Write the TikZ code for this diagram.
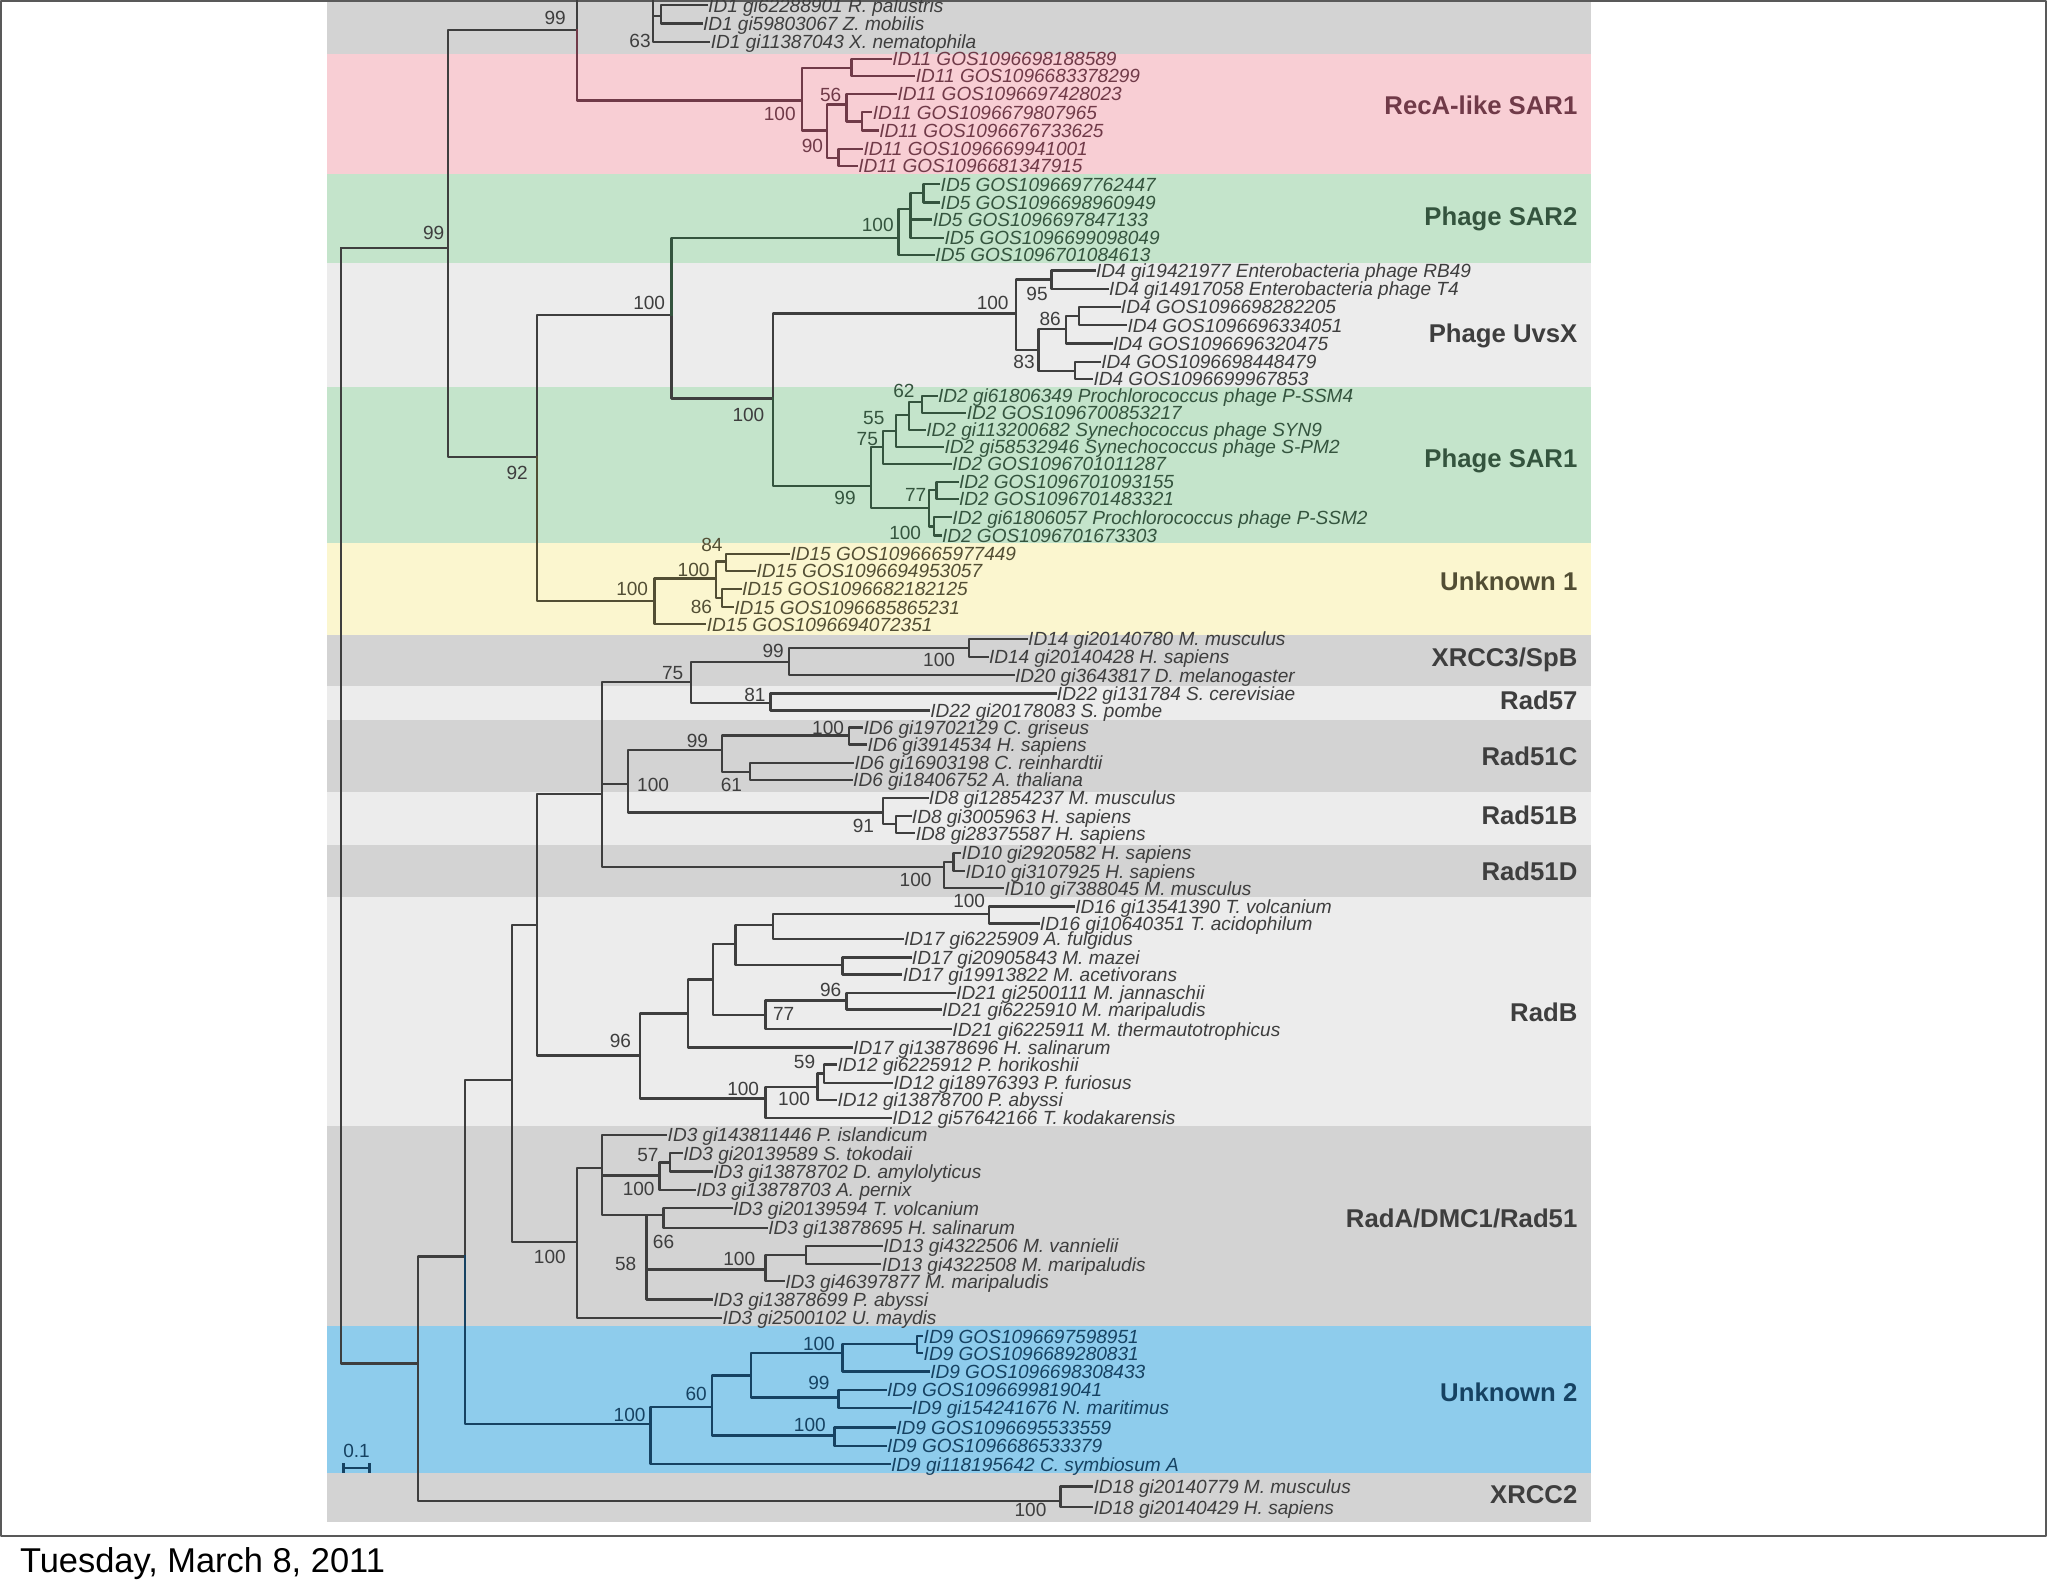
\documentclass[tikz,border=0pt]{standalone}
\usepackage{fontspec}
\setmainfont{Liberation Sans}
\definecolor{bandgray}{RGB}{211,211,211}
\definecolor{bandlight}{RGB}{236,236,236}
\definecolor{bandpink}{RGB}{248,206,212}
\definecolor{bandgreen}{RGB}{196,228,203}
\definecolor{bandyellow}{RGB}{251,246,207}
\definecolor{bandblue}{RGB}{142,204,236}
\definecolor{inkgray}{RGB}{62,62,62}
\definecolor{inkpink}{RGB}{112,58,72}
\definecolor{inkgreen}{RGB}{52,84,62}
\definecolor{inkyellow}{RGB}{82,78,52}
\definecolor{inkblue}{RGB}{22,66,98}
\begin{document}
\begin{tikzpicture}[x=0.2mm, y=-0.2mm, line join=round, line cap=rect,
  leaf/.style={anchor=west, inner sep=0.5pt, text height=6pt, text depth=0pt, font=\fontsize{8.3}{9}\selectfont\itshape},
  boot/.style={inner sep=0pt, font=\fontsize{8.3}{9}\selectfont},
  clade/.style={anchor=east, inner sep=0pt, text height=7.9pt, text depth=0pt, font=\fontsize{11.2}{12}\selectfont\bfseries}]
\useasboundingbox (0,0) rectangle (1568,1220);
\foreach \c/\a/\b in {bandgray/0/41, bandpink/41/133, bandgreen/133/201, bandlight/201/296, bandgreen/296/416,
  bandyellow/416/486, bandgray/486/525, bandlight/525/551, bandgray/551/606, bandlight/606/647, bandgray/647/687,
  bandlight/687/862, bandgray/862/1015, bandblue/1015/1128, bandgray/1128/1165}
  \fill[\c] (250,\a) rectangle (1218,\b);
\draw[black!65, line width=0.7pt] (0.8,0.8) rectangle (1566.5,1176);
\node[anchor=base west, inner sep=0pt, font=\fontsize{15}{17}\selectfont] (date) at (15,1204) {Tuesday, March 8, 2011};

\begin{scope}
\clip (250,0) rectangle (1218,1165);
\coordinate (nR) at (261,190);
\coordinate (n343) at (343,190);
\coordinate (nA) at (442,23);
\coordinate (n1) at (500,-8);
\coordinate (n1b) at (506,12);
\coordinate (n411) at (411,350);
\coordinate (nB) at (514,241);
\coordinate (nC) at (592,305);
\coordinate (P0) at (614,77);
\coordinate (P1) at (652,52);
\coordinate (P2) at (633,100);
\coordinate (P3) at (648,80);
\coordinate (P4) at (660,93);
\coordinate (P5) at (642,121);
\coordinate (Q0) at (688,182);
\coordinate (Q1) at (697,160);
\coordinate (Q2) at (707,148);
\coordinate (U0) at (778,240);
\coordinate (U1) at (805,214);
\coordinate (U3) at (795,268);
\coordinate (U4) at (816,252);
\coordinate (U6) at (826,242);
\coordinate (U5) at (823,284);
\coordinate (S0) at (667,372);
\coordinate (S5) at (676,342);
\coordinate (S4) at (686,330);
\coordinate (S3) at (696,318);
\coordinate (S2) at (706,308);
\coordinate (S6) at (711,389);
\coordinate (S7) at (717,375);
\coordinate (S8) at (715,403);
\coordinate (Y0) at (501,460);
\coordinate (Y1) at (548,443);
\coordinate (Y2) at (556,430);
\coordinate (Y3) at (553,458);
\coordinate (R2) at (320,1044);
\coordinate (R3) at (356,962);
\coordinate (K0) at (392,827);
\coordinate (L0) at (411,708);
\coordinate (M0) at (461,608);
\coordinate (X0) at (529,522);
\coordinate (X1) at (604,507);
\coordinate (X2) at (742,496);
\coordinate (X4) at (590,538);
\coordinate (C0) at (481,600);
\coordinate (C1) at (553,574);
\coordinate (C2) at (650,563);
\coordinate (C3) at (574,591);
\coordinate (B0) at (676,622);
\coordinate (B1) at (686,631);
\coordinate (D0) at (723,664);
\coordinate (D1) at (730,660);
\coordinate (RB0) at (490,808);
\coordinate (RB7) at (527,776);
\coordinate (RB3) at (546,750);
\coordinate (RB1) at (563,723);
\coordinate (RB2) at (592,708);
\coordinate (RBt) at (757,700);
\coordinate (RB4) at (645,739);
\coordinate (RB5) at (586,777);
\coordinate (RB6) at (648,766);
\coordinate (RB8) at (586,841);
\coordinate (RB9) at (626,832);
\coordinate (RB10) at (631,822);
\coordinate (RA0) at (442,951);
\coordinate (RA1) at (461,894);
\coordinate (RA2) at (505,900);
\coordinate (RA3) at (513,890);
\coordinate (RA4) at (495,930);
\coordinate (RA8) at (508,930);
\coordinate (RA6) at (586,972);
\coordinate (RA7) at (617,961);
\coordinate (G0) at (498,1090);
\coordinate (G1) at (545,1077);
\coordinate (G2) at (575,1053);
\coordinate (G3) at (645,1036);
\coordinate (G3a) at (702,1029);
\coordinate (G4) at (642,1070);
\coordinate (G5) at (639,1099);
\coordinate (X18) at (812,1149);

\begin{scope}[color=inkgray]
\foreach \n/\x/\y/\t in {l1a/541/4/ID1 gi62288901 R. palustris, l1b/537/18/ID1 gi59803067 Z. mobilis,
  l1c/543/32/ID1 gi11387043 X. nematophila,
  u1/838/207/ID4 gi19421977 Enterobacteria phage RB49, u2/848/221/ID4 gi14917058 Enterobacteria phage T4,
  u3/857/235/ID4 GOS1096698282205, u4/862/249/ID4 GOS1096696334051, u5/851/263/ID4 GOS1096696320475,
  u6/842/277/ID4 GOS1096698448479, u7/836/290/ID4 GOS1096699967853,
  e14a/786/489/ID14 gi20140780 M. musculus, e14b/756/503/ID14 gi20140428 H. sapiens,
  e20/776/517/ID20 gi3643817 D. melanogaster, e22a/808/531/ID22 gi131784 S. cerevisiae,
  e22b/711/544/ID22 gi20178083 S. pombe,
  c1/660/557/ID6 gi19702129 C. griseus, c2/663/570/ID6 gi3914534 H. sapiens,
  c3/653/584/ID6 gi16903198 C. reinhardtii, c4/652/597/ID6 gi18406752 A. thaliana,
  b1/710/611/ID8 gi12854237 M. musculus, b2/697/625/ID8 gi3005963 H. sapiens, b3/700/638/ID8 gi28375587 H. sapiens,
  d1/735/653/ID10 gi2920582 H. sapiens, d2/738/667/ID10 gi3107925 H. sapiens, d3/768/680/ID10 gi7388045 M. musculus,
  r1/822/694/ID16 gi13541390 T. volcanium, r2/795/707/ID16 gi10640351 T. acidophilum,
  r3/691/719/ID17 gi6225909 A. fulgidus, r4/697/733/ID17 gi20905843 M. mazei,
  r5/690/746/ID17 gi19913822 M. acetivorans, r6/731/760/ID21 gi2500111 M. jannaschii,
  r7/720/773/ID21 gi6225910 M. maripaludis, r8/728/788/ID21 gi6225911 M. thermautotrophicus,
  r9/652/802/ID17 gi13878696 H. salinarum, r10/640/815/ID12 gi6225912 P. horikoshii,
  r11/683/829/ID12 gi18976393 P. furiosus, r12/640/842/ID12 gi13878700 P. abyssi,
  r13/682/856/ID12 gi57642166 T. kodakarensis,
  ra1/510/869/ID3 gi143811446 P. islandicum, ra2/522/883/ID3 gi20139589 S. tokodaii,
  ra3/545/897/ID3 gi13878702 D. amylolyticus, ra4/532/911/ID3 gi13878703 A. pernix,
  ra5/560/925/ID3 gi20139594 T. volcanium, ra6/587/940/ID3 gi13878695 H. salinarum,
  ra7/675/954/ID13 gi4322506 M. vannielii, ra8/674/968/ID13 gi4322508 M. maripaludis,
  ra9/600/981/ID3 gi46397877 M. maripaludis, ra10/545/995/ID3 gi13878699 P. abyssi,
  ra11/552/1009/ID3 gi2500102 U. maydis,
  x1/836/1138/ID18 gi20140779 M. musculus, x2/836/1154/ID18 gi20140429 H. sapiens}
  \node[leaf] (\n) at (\x,\y) {\t};
\end{scope}
\begin{scope}[color=inkpink]
\foreach \n/\x/\y/\t in {p1/682/45/ID11 GOS1096698188589, p2/700/58/ID11 GOS1096683378299,
  p3/686/72/ID11 GOS1096697428023, p4/667/86/ID11 GOS1096679807965, p5/672/100/ID11 GOS1096676733625,
  p6/660/114/ID11 GOS1096669941001, p7/656/127/ID11 GOS1096681347915}
  \node[leaf] (\n) at (\x,\y) {\t};
\end{scope}
\begin{scope}[color=inkgreen]
\foreach \n/\x/\y/\t in {q1/719/141/ID5 GOS1096697762447, q2/719/155/ID5 GOS1096698960949,
  q3/713/168/ID5 GOS1096697847133, q4/722/182/ID5 GOS1096699098049, q5/715/195/ID5 GOS1096701084613,
  s1/717/303/ID2 gi61806349 Prochlorococcus phage P-SSM4, s2/739/316/ID2 GOS1096700853217,
  s3/708/329/ID2 gi113200682 Synechococcus phage SYN9, s4/722/342/ID2 gi58532946 Synechococcus phage S-PM2,
  s5/728/355/ID2 GOS1096701011287, s6/733/369/ID2 GOS1096701093155, s7/733/382/ID2 GOS1096701483321,
  s8/728/396/ID2 gi61806057 Prochlorococcus phage P-SSM2, s9/720/410/ID2 GOS1096701673303}
  \node[leaf] (\n) at (\x,\y) {\t};
\end{scope}
\begin{scope}[color=inkyellow]
\foreach \n/\x/\y/\t in {y1/604/424/ID15 GOS1096665977449, y2/578/437/ID15 GOS1096694953057,
  y3/567/451/ID15 GOS1096682182125, y4/561/465/ID15 GOS1096685865231, y5/540/478/ID15 GOS1096694072351}
  \node[leaf] (\n) at (\x,\y) {\t};
\end{scope}
\begin{scope}[color=inkblue]
\foreach \n/\x/\y/\t in {g1/706/1023/ID9 GOS1096697598951, g2/706/1036/ID9 GOS1096689280831,
  g3/711/1050/ID9 GOS1096698308433, g4/678/1064/ID9 GOS1096699819041, g5/697/1078/ID9 gi154241676 N. maritimus,
  g6/685/1093/ID9 GOS1096695533559, g7/678/1107/ID9 GOS1096686533379, g8/681/1121/ID9 gi118195642 C. symbiosum A}
  \node[leaf] (\n) at (\x,\y) {\t};
\end{scope}

\begin{scope}[line width=1pt, color=inkgray]
\foreach \a/\b in {nR/n343, nR/R2, n343/nA, n343/n411, n411/nB, nB/nC, nA/n1, n1/l1c, n1/n1b, n1b/l1a, n1b/l1b,
  nC/U0, U0/U1, U0/U3, U1/u1, U1/u2, U3/U4, U3/U5, U4/U6, U4/u5, U6/u3, U6/u4, U5/u6, U5/u7,
  R2/R3, R2/X18, R3/K0, K0/L0, K0/RA0, L0/M0, L0/RB0, M0/X0, M0/C0, M0/D0,
  X0/X1, X0/X4, X1/X2, X1/e20, X2/e14a, X2/e14b, X4/e22a, X4/e22b,
  C0/C1, C0/B0, C1/C2, C1/C3, C2/c1, C2/c2, C3/c3, C3/c4, B0/b1, B0/B1, B1/b2, B1/b3,
  D0/D1, D0/d3, D1/d1, D1/d2,
  RB0/RB7, RB0/RB8, RB7/RB3, RB7/r9, RB3/RB1, RB3/RB5, RB1/RB2, RB1/RB4, RB2/RBt, RB2/r3, RBt/r1, RBt/r2,
  RB4/r4, RB4/r5, RB5/RB6, RB5/r8, RB6/r6, RB6/r7, RB8/RB9, RB8/r13, RB9/RB10, RB9/r12, RB10/r10, RB10/r11,
  RA0/RA1, RA0/ra11, RA1/ra1, RA1/RA2, RA1/RA4, RA2/RA3, RA2/ra4, RA3/ra2, RA3/ra3,
  RA4/RA8, RA4/RA6, RA4/ra10, RA8/ra5, RA8/ra6, RA6/RA7, RA6/ra9, RA7/ra7, RA7/ra8, X18/x1, X18/x2}
  \draw (\a) |- (\b);
\end{scope}
\begin{scope}[line width=1pt, color=inkpink]
\foreach \a/\b in {nA/P0, P0/P1, P0/P2, P1/p1, P1/p2, P2/P3, P2/P5, P3/p3, P3/P4, P4/p4, P4/p5, P5/p6, P5/p7}
  \draw (\a) |- (\b);
\end{scope}
\begin{scope}[line width=1pt, color=inkgreen]
\foreach \a/\b in {nB/Q0, Q0/Q1, Q0/q5, Q1/Q2, Q1/q3, Q1/q4, Q2/q1, Q2/q2,
  nC/S0, S0/S5, S0/S6, S5/S4, S5/s5, S4/S3, S4/s4, S3/S2, S3/s3, S2/s1, S2/s2,
  S6/S7, S6/S8, S7/s6, S7/s7, S8/s8, S8/s9}
  \draw (\a) |- (\b);
\end{scope}
\begin{scope}[line width=1pt, color=inkyellow]
\foreach \a/\b in {n411/Y0, Y0/Y1, Y0/y5, Y1/Y2, Y1/Y3, Y2/y1, Y2/y2, Y3/y3, Y3/y4}
  \draw (\a) |- (\b);
\end{scope}
\begin{scope}[line width=1pt, color=inkblue]
\foreach \a/\b in {R3/G0, G0/G1, G0/g8, G1/G2, G1/G5, G2/G3, G2/G4, G3/G3a, G3/g3, G3a/g1, G3a/g2,
  G4/g4, G4/g5, G5/g6, G5/g7}
  \draw (\a) |- (\b);
\end{scope}

\begin{scope}[color=inkgray]
\foreach \n/\x/\y/\t in {t1/425/14/99, t2/490/31/63, t3/332/178/99, t4/396/362/92, t5/497/232/100, t6/573/318/100,
  t17/760/232/100, t18/794/225/95, t19/804/244/86, t20/784/277/83,
  t25/592/498/99, t26/719/505/100, t27/515/515/75, t28/578/532/81, t29/634/557/100, t30/534/567/99,
  t31/560/601/61, t32/500/601/100, t33/661/632/91, t34/701/674/100, t35/742/690/100, t36/636/758/96,
  t37/600/776/77, t38/475/797/96, t39/616/813/59, t40/569/834/100, t41/608/841/100, t42/496/884/57,
  t43/489/910/100, t44/508/951/66, t45/566/964/100, t46/479/968/58, t47/421/962/100, t48/789/1156/100}
  \node[boot] (\n) at (\x,\y) {\t};
\end{scope}
\begin{scope}[color=inkpink]
\foreach \n/\x/\y/\t in {t7/597/87/100, t8/636/73/56, t9/622/112/90}
  \node[boot] (\n) at (\x,\y) {\t};
\end{scope}
\begin{scope}[color=inkgreen]
\foreach \n/\x/\y/\t in {t10/672/172/100, t11/692/299/62, t12/669/320/55, t13/664/336/75, t14/647/381/99,
  t15/701/379/77, t16/693/408/100}
  \node[boot] (\n) at (\x,\y) {\t};
\end{scope}
\begin{scope}[color=inkyellow]
\foreach \n/\x/\y/\t in {t21/545/417/84, t22/531/436/100, t23/484/451/100, t24/537/465/86}
  \node[boot] (\n) at (\x,\y) {\t};
\end{scope}
\begin{scope}[color=inkblue]
\foreach \n/\x/\y/\t in {t49/627/1029/100, t50/627/1059/99, t51/533/1067/60, t52/482/1083/100, t53/620/1091/100}
  \node[boot] (\n) at (\x,\y) {\t};
\coordinate (sb1) at (263,1124);
\coordinate (sb2) at (283,1124);
\node[boot] (sbt) at (273,1111) {0.1};
\draw[line width=1pt] (sb1) -- (sb2);
\draw[line width=1pt] (sb1) ++(0,-3) -- ++(0,6) (sb2) ++(0,-3) -- ++(0,6);
\end{scope}

\node[clade, color=inkpink] (kRecA) at (1208,81) {RecA-like SAR1};
\node[clade, color=inkgreen] (kSAR2) at (1208,166) {Phage SAR2};
\node[clade, color=inkgray] (kUvsX) at (1208,255) {Phage UvsX};
\node[clade, color=inkgreen] (kSAR1) at (1208,351) {Phage SAR1};
\node[clade, color=inkyellow] (kUnk1) at (1208,445) {Unknown 1};
\node[clade, color=inkgray] (kXRCC3) at (1208,503) {XRCC3/SpB};
\node[clade, color=inkgray] (kRad57) at (1208,536) {Rad57};
\node[clade, color=inkgray] (kRad51C) at (1208,579) {Rad51C};
\node[clade, color=inkgray] (kRad51B) at (1208,624) {Rad51B};
\node[clade, color=inkgray] (kRad51D) at (1208,667) {Rad51D};
\node[clade, color=inkgray] (kRadB) at (1208,775) {RadB};
\node[clade, color=inkgray] (kRadA) at (1208,933) {RadA/DMC1/Rad51};
\node[clade, color=inkblue] (kUnk2) at (1208,1066) {Unknown 2};
\node[clade, color=inkgray] (kXRCC2) at (1208,1144) {XRCC2};
\end{scope}
\end{tikzpicture}
\end{document}
